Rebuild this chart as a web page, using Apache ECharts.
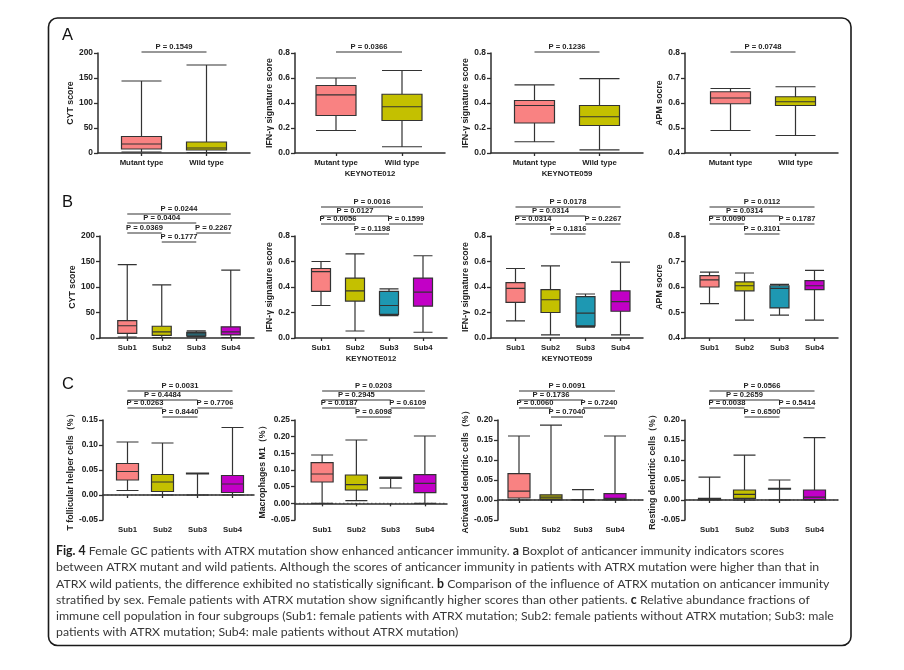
<!DOCTYPE html>
<html>
<head>
<meta charset="utf-8">
<title>Fig. 4</title>
<script src="https://cdn.jsdelivr.net/npm/echarts@6/dist/echarts.min.js"></script>
<style>
  html, body { margin: 0; padding: 0; background: #fff; }
  #main { width: 904px; height: 670px; }
</style>
</head>
<body>
<div id="main"></div>
<script>
// categories
var typeCats = ['Mutant type', 'Wild type'];
var subCats = ['Sub1', 'Sub2', 'Sub3', 'Sub4'];

// boxes: [min, Q1, median, Q3, max]
var cytType = [[2, 8, 18, 33, 144], [1, 6, 10, 22, 176]];
var ifn012Type = [[0.18, 0.30, 0.465, 0.54, 0.60], [0.05, 0.26, 0.37, 0.47, 0.66]];
var ifn059Type = [[0.09, 0.24, 0.38, 0.42, 0.545], [0.025, 0.22, 0.29, 0.38, 0.595]];
var apmType = [[0.49, 0.597, 0.62, 0.645, 0.658], [0.47, 0.59, 0.605, 0.625, 0.665]];

var cytSub = [[2, 9, 24, 34, 144], [1, 5, 12, 23, 104], [2, 4, 8, 11, 14], [1, 6, 12, 22, 133]];
var ifn012Sub = [[0.255, 0.365, 0.52, 0.545, 0.60], [0.055, 0.29, 0.37, 0.47, 0.66], [0.175, 0.185, 0.255, 0.365, 0.385], [0.045, 0.25, 0.36, 0.47, 0.645]];
var ifn059Sub = [[0.135, 0.28, 0.39, 0.435, 0.545], [0.025, 0.20, 0.30, 0.38, 0.565], [0.085, 0.095, 0.195, 0.325, 0.345], [0.025, 0.21, 0.285, 0.37, 0.595]];
var apmSub = [[0.535, 0.60, 0.628, 0.645, 0.658], [0.47, 0.585, 0.605, 0.62, 0.655], [0.49, 0.518, 0.595, 0.605, 0.61], [0.47, 0.59, 0.605, 0.625, 0.665]];

var tfhSub = [[0.009, 0.030, 0.047, 0.063, 0.106], [0.0, 0.007, 0.026, 0.041, 0.104], [0.0, 0.042, 0.043, 0.044, 0.044], [0.0, 0.005, 0.022, 0.039, 0.135]];
var m1Sub = [[0.0, 0.064, 0.088, 0.122, 0.145], [0.008, 0.04, 0.056, 0.085, 0.19], [0.046, 0.075, 0.076, 0.078, 0.079], [0.0, 0.032, 0.06, 0.086, 0.202]];
var actDcSub = [[0.0, 0.005, 0.022, 0.066, 0.16], [0.0, 0.002, 0.007, 0.013, 0.187], [0.0, 0.0, 0.0, 0.001, 0.026], [0.0, 0.001, 0.004, 0.016, 0.16]];
var restDcSub = [[0.0, 0.001, 0.002, 0.004, 0.057], [0.0, 0.004, 0.014, 0.025, 0.112], [0.0, 0.027, 0.028, 0.029, 0.05], [0.0, 0.001, 0.007, 0.025, 0.156]];

// significance pairs and p values (top bar first)
var typePairs = [[0, 1]];
var subPairs = [[0, 3], [0, 2], [0, 1], [2, 3], [1, 2]];
var cytTypeP = ['0.1549'];
var ifn012TypeP = ['0.0366'];
var ifn059TypeP = ['0.1236'];
var apmTypeP = ['0.0748'];
var cytSubP = ['0.0244', '0.0404', '0.0369', '0.2267', '0.1777'];
var ifn012SubP = ['0.0016', '0.0127', '0.0056', '0.1599', '0.1198'];
var ifn059SubP = ['0.0178', '0.0314', '0.0314', '0.2267', '0.1816'];
var apmSubP = ['0.0112', '0.0314', '0.0090', '0.1787', '0.3101'];
var tfhSubP = ['0.0031', '0.4484', '0.0263', '0.7706', '0.8440'];
var m1SubP = ['0.0203', '0.2945', '0.0187', '0.6109', '0.6098'];
var actDcSubP = ['0.0091', '0.1736', '0.0060', '0.7240', '0.7040'];
var restDcSubP = ['0.0566', '0.2659', '0.0038', '0.5414', '0.6500'];

// y ticks: [min, max, interval, decimals]
var cytTicks = [0, 200, 50, 0];
var ifnTicks = [0, 0.8, 0.2, 1];
var apmTicks = [0.4, 0.8, 0.1, 1];
var tfhTicks = [-0.05, 0.15, 0.05, 2];
var m1Ticks = [-0.05, 0.25, 0.05, 2];
var dcTicks = [-0.05, 0.20, 0.05, 2];

var boxColors = ['#F98282', '#C4C000', '#1E98B2', '#C200C6'];
var FONT = '"Liberation Sans", Arial, sans-serif';
var INK = '#222';
var AXIS = '#2e2e2e';

var rowA = { top: 53, height: 100, boxW: 40, barOff: [-1] };
var rowB = { top: 236, height: 102, boxW: 19, barOff: [-29, -20, -12, -12, -2] };
var rowB1 = { top: 236, height: 102, boxW: 19, barOff: [-22, -13, -3, -3, 6] };
var rowC = { top: 420, height: 100, boxW: 22, barOff: [-29, -20, -12, -12, -3] };

var panels = [
  { row: rowA, outer: [98, 250], inner: [109, 239], cats: typeCats, boxes: cytType, ticks: cytTicks, p: cytTypeP, pairs: typePairs, yName: 'CYT score', gap: 20 },
  { row: rowA, outer: [295, 445], inner: [303, 435], cats: typeCats, boxes: ifn012Type, ticks: ifnTicks, p: ifn012TypeP, pairs: typePairs, yName: 'IFN-γ signature score', xName: 'KEYNOTE012', gap: 20 },
  { row: rowA, outer: [491, 643], inner: [502, 632], cats: typeCats, boxes: ifn059Type, ticks: ifnTicks, p: ifn059TypeP, pairs: typePairs, yName: 'IFN-γ signature score', xName: 'KEYNOTE059', gap: 18 },
  { row: rowA, outer: [685, 838], inner: [698, 828], cats: typeCats, boxes: apmType, ticks: apmTicks, p: apmTypeP, pairs: typePairs, yName: 'APM socre', gap: 20 },
  { row: rowB1, outer: [100, 254], inner: [110, 248], cats: subCats, boxes: cytSub, ticks: cytTicks, p: cytSubP, pairs: subPairs, yName: 'CYT score', gap: 20 },
  { row: rowB, outer: [295, 447], inner: [304, 440], cats: subCats, boxes: ifn012Sub, ticks: ifnTicks, p: ifn012SubP, pairs: subPairs, yName: 'IFN-γ signature score', xName: 'KEYNOTE012', gap: 20 },
  { row: rowB, outer: [491, 643], inner: [498, 638], cats: subCats, boxes: ifn059Sub, ticks: ifnTicks, p: ifn059SubP, pairs: subPairs, yName: 'IFN-γ signature score', xName: 'KEYNOTE059', gap: 18 },
  { row: rowB, outer: [685, 838], inner: [692, 832], cats: subCats, boxes: apmSub, ticks: apmTicks, p: apmSubP, pairs: subPairs, yName: 'APM socre', gap: 20 },
  { row: rowC, outer: [103, 254], inner: [110, 250], cats: subCats, boxes: tfhSub, ticks: tfhTicks, p: tfhSubP, pairs: subPairs, yName: 'T follicular helper cells（%）', gap: 24, zero: true },
  { row: rowC, outer: [295, 447], inner: [305, 442], cats: subCats, boxes: m1Sub, ticks: m1Ticks, p: m1SubP, pairs: subPairs, yName: 'Macrophages M1（%）', gap: 24, zero: true },
  { row: rowC, outer: [498, 643], inner: [503, 631], cats: subCats, boxes: actDcSub, ticks: dcTicks, p: actDcSubP, pairs: subPairs, yName: 'Activated dendritic cells（%）', gap: 25, zero: true },
  { row: rowC, outer: [685, 838], inner: [692, 832], cats: subCats, boxes: restDcSub, ticks: dcTicks, p: restDcSubP, pairs: subPairs, yName: 'Resting dendritic cells（%）', gap: 25, zero: true }
];

var captionLines = [
  [['Fig. 4', true], [' Female GC patients with ATRX mutation show enhanced anticancer immunity. ', false], ['a', true], [' Boxplot of anticancer immunity indicators scores', false]],
  [['between ATRX mutant and wild patients. Although the scores of anticancer immunity in patients with ATRX mutation were higher than that in', false]],
  [['ATRX wild patients, the difference exhibited no statistically significant. ', false], ['b', true], [' Comparison of the influence of ATRX mutation on anticancer immunity', false]],
  [['stratified by sex. Female patients with ATRX mutation show significantly higher scores than other patients. ', false], ['c', true], [' Relative abundance fractions of', false]],
  [['immune cell population in four subgroups (Sub1: female patients with ATRX mutation; Sub2: female patients without ATRX mutation; Sub3: male', false]],
  [['patients with ATRX mutation; Sub4: male patients without ATRX mutation)', false]]
];

var chart = echarts.init(document.getElementById('main'), null, { renderer: 'canvas' });

var grids = [], xAxes = [], yAxes = [], series = [];

function barRenderer(panel) {
  return function (params, api) {
    var pr = panel.pairs[params.dataIndex];
    var x1 = api.coord([pr[0], panel.ticks[1]])[0];
    var x2 = api.coord([pr[1], panel.ticks[1]])[0];
    var y = params.coordSys.y + panel.row.barOff[params.dataIndex];
    return {
      type: 'group',
      children: [
        { type: 'line', shape: { x1: x1, y1: y, x2: x2, y2: y }, style: { stroke: '#333', lineWidth: 1.1 } },
        { type: 'text', style: { text: 'P = ' + panel.p[params.dataIndex], x: (x1 + x2) / 2, y: y - 1, align: 'center', verticalAlign: 'bottom', font: 'bold 7.6px ' + FONT, fill: INK } }
      ]
    };
  };
}

function zeroRenderer(params, api) {
  var cs = params.coordSys;
  var y = api.coord([0, 0])[1];
  return { type: 'line', shape: { x1: cs.x, y1: y, x2: cs.x + cs.width, y2: y }, style: { stroke: '#444', lineWidth: 1, lineDash: [1.5, 2.5] } };
}

panels.forEach(function (p, k) {
  var go = 2 * k, gi = 2 * k + 1;
  var t = p.ticks;
  grids.push({ left: p.outer[0], top: p.row.top, width: p.outer[1] - p.outer[0], height: p.row.height });
  grids.push({ left: p.inner[0], top: p.row.top, width: p.inner[1] - p.inner[0], height: p.row.height });

  xAxes.push({
    gridIndex: go, type: 'value', min: 0, max: 1,
    axisLine: { show: true, lineStyle: { color: AXIS, width: 1.5 } },
    axisTick: { show: false }, axisLabel: { show: false }, splitLine: { show: false },
    name: p.xName || '', nameLocation: 'middle', nameGap: 17,
    nameTextStyle: { fontFamily: FONT, fontWeight: 'bold', fontSize: 7.8, color: INK }
  });
  xAxes.push({
    gridIndex: gi, type: 'category', data: p.cats,
    axisLine: { show: false },
    axisTick: { show: true, alignWithLabel: true, length: 3, lineStyle: { color: AXIS, width: 1.3 } },
    axisLabel: { margin: 6, fontFamily: FONT, fontWeight: 'bold', fontSize: 7.8, color: INK }
  });
  yAxes.push({
    gridIndex: go, type: 'value', min: t[0], max: t[1], interval: t[2],
    axisLine: { show: true, lineStyle: { color: AXIS, width: 1.5 } },
    axisTick: { show: true, length: 4, lineStyle: { color: AXIS, width: 1.3 } },
    splitLine: { show: false },
    axisLabel: {
      margin: 5, fontFamily: FONT, fontWeight: 'bold', fontSize: 8.4, color: INK,
      formatter: function (v) { return v.toFixed(t[3]); }
    },
    name: p.yName, nameLocation: 'middle', nameGap: p.gap, nameRotate: 90,
    nameTextStyle: { fontFamily: FONT, fontWeight: 'bold', fontSize: 8.8, color: INK }
  });
  yAxes.push({ gridIndex: gi, type: 'value', min: t[0], max: t[1], show: false });

  if (p.zero) {
    series.push({ type: 'custom', xAxisIndex: go, yAxisIndex: go, data: [[0, 0]], renderItem: zeroRenderer, silent: true, z: 1 });
  }
  series.push({
    type: 'boxplot', xAxisIndex: gi, yAxisIndex: gi,
    boxWidth: [p.row.boxW, p.row.boxW], silent: true, z: 3,
    itemStyle: { borderColor: '#333', borderWidth: 1.2 },
    data: p.boxes.map(function (b, i) {
      return { value: b, itemStyle: { color: boxColors[i], borderColor: '#333', borderWidth: 1.2 } };
    })
  });
  series.push({
    type: 'custom', xAxisIndex: gi, yAxisIndex: gi, silent: true, z: 5,
    data: p.pairs.map(function (pr) { return [pr[0], pr[1]]; }),
    renderItem: barRenderer(p)
  });
});

// caption, sized so that the fifth line fills its measured width
var capFamily = 'Lato, "Open Sans", sans-serif';
var ctx = document.createElement('canvas').getContext('2d');
ctx.font = '12px ' + capFamily;
var refW = ctx.measureText(captionLines[4][0][0]).width;
var capSize = 12 * 779 / refW;

var graphics = [
  { type: 'rect', shape: { x: 48.5, y: 18, width: 802.5, height: 627.5, r: 9 }, style: { fill: 'none', stroke: '#1a1a1a', lineWidth: 1.6 }, silent: true },
  { type: 'text', style: { text: 'A', x: 62, y: 35, verticalAlign: 'middle', font: '16.5px ' + FONT, fill: '#111' } },
  { type: 'text', style: { text: 'B', x: 62, y: 202, verticalAlign: 'middle', font: '16.5px ' + FONT, fill: '#111' } },
  { type: 'text', style: { text: 'C', x: 62, y: 384, verticalAlign: 'middle', font: '16.5px ' + FONT, fill: '#111' } }
];
captionLines.forEach(function (segs, i) {
  var txt = segs.map(function (s) { return s[1] ? '{b|' + s[0] + '}' : '{n|' + s[0] + '}'; }).join('');
  graphics.push({
    type: 'text', silent: true,
    style: {
      text: txt, x: 56, y: 551 + i * 16.3, verticalAlign: 'middle',
      rich: {
        b: { fontFamily: capFamily, fontSize: capSize, fontWeight: 'bold', fill: '#1e1e1e' },
        n: { fontFamily: capFamily, fontSize: capSize, fill: '#383838' }
      }
    }
  });
});

chart.setOption({
  animation: false,
  backgroundColor: '#fff',
  grid: grids,
  xAxis: xAxes,
  yAxis: yAxes,
  series: series,
  graphic: { elements: graphics }
});
</script>
</body>
</html>
